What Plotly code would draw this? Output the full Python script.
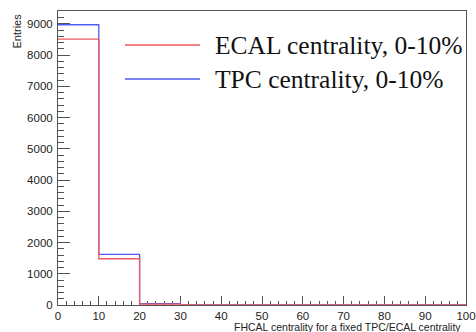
import plotly.graph_objects as go

# Histogram contents: 10 bins of width 10 over FHCAL centrality 0-100
bin_edges = [0, 10, 20, 30, 40, 50, 60, 70, 80, 90, 100]
ecal_counts = [8510, 1480, 30, 0, 0, 0, 0, 0, 0, 0]
tpc_counts = [8970, 1620, 45, 0, 0, 0, 0, 0, 0, 0]
series_names = ["ECAL centrality, 0-10%", "TPC centrality, 0-10%"]
series_colors = ["#f25a5a", "#4a5cf0"]

x_ticks = [0, 10, 20, 30, 40, 50, 60, 70, 80, 90, 100]
y_ticks = [0, 1000, 2000, 3000, 4000, 5000, 6000, 7000, 8000, 9000]

fig = go.Figure()

# Step outlines, TPC first so ECAL sits on top
for counts, name, color in [(tpc_counts, series_names[1], series_colors[1]),
                            (ecal_counts, series_names[0], series_colors[0])]:
    fig.add_trace(go.Scatter(
        x=bin_edges,
        y=counts + [counts[-1]],
        mode="lines",
        line=dict(shape="hv", color=color, width=1.3),
        name=name,
        showlegend=False,
        cliponaxis=False,
        hoverinfo="skip",
    ))

# Hand-drawn legend block (long line samples, large serif text)
legend_rows = [(series_names[0], series_colors[0], 45),
               (series_names[1], series_colors[1], 79)]
H = 332
W = 476
for text, color, ypix in legend_rows:
    fig.add_shape(type="line", xref="paper", yref="paper",
                  x0=(125 - 58) / 408, x1=(200 - 58) / 408,
                  y0=(305 - ypix) / 294, y1=(305 - ypix) / 294,
                  line=dict(color=color, width=1.3))
    fig.add_annotation(text=text, xref="paper", yref="paper",
                       x=(213 - 58) / 408, y=(305 - ypix) / 294,
                       xanchor="left", yanchor="middle", showarrow=False,
                       font=dict(family="Liberation Serif", size=25.5, color="#111"))

axis_common = dict(
    showline=True, linecolor="#555", linewidth=1, mirror=True,
    ticks="inside", tickcolor="#555", tickwidth=1,
    showgrid=False, zeroline=False, layer="below traces",
    tickfont=dict(family="Liberation Sans", size=11.5, color="#222"),
    ticklabeloverflow="allow", automargin=False,
)

fig.update_xaxes(
    range=[0, 100], tickvals=x_ticks, ticklen=9,
    minor=dict(ticks="inside", ticklen=4.5, dtick=2, tickcolor="#555", showgrid=False),
    ticklabelstandoff=0,
    **axis_common,
)
fig.update_yaxes(
    range=[0, 9410], tickvals=y_ticks, ticklen=12,
    minor=dict(ticks="inside", ticklen=6, dtick=200, tickcolor="#555", showgrid=False),
    ticklabelstandoff=2,
    **axis_common,
)

# Axis titles positioned ROOT-style (right/top aligned)
fig.add_annotation(text="FHCAL centrality for a fixed TPC/ECAL centrality",
                   xref="paper", yref="paper", x=(463 - 58) / 408, y=-(327 - 305) / 294,
                   xanchor="right", yanchor="middle", showarrow=False,
                   font=dict(family="Liberation Sans", size=10.5, color="#222"))
fig.add_annotation(text="Entries", xref="paper", yref="paper",
                   x=-(58 - 16) / 408, y=1 - (12 - 11) / 294,
                   xanchor="center", yanchor="top", textangle=-90, showarrow=False,
                   font=dict(family="Liberation Sans", size=11, color="#222"))

fig.update_layout(
    width=W, height=H,
    margin=dict(l=58, r=10, t=11, b=27, autoexpand=False),
    paper_bgcolor="white", plot_bgcolor="white",
    showlegend=False,
)

fig.write_html("out.html")
